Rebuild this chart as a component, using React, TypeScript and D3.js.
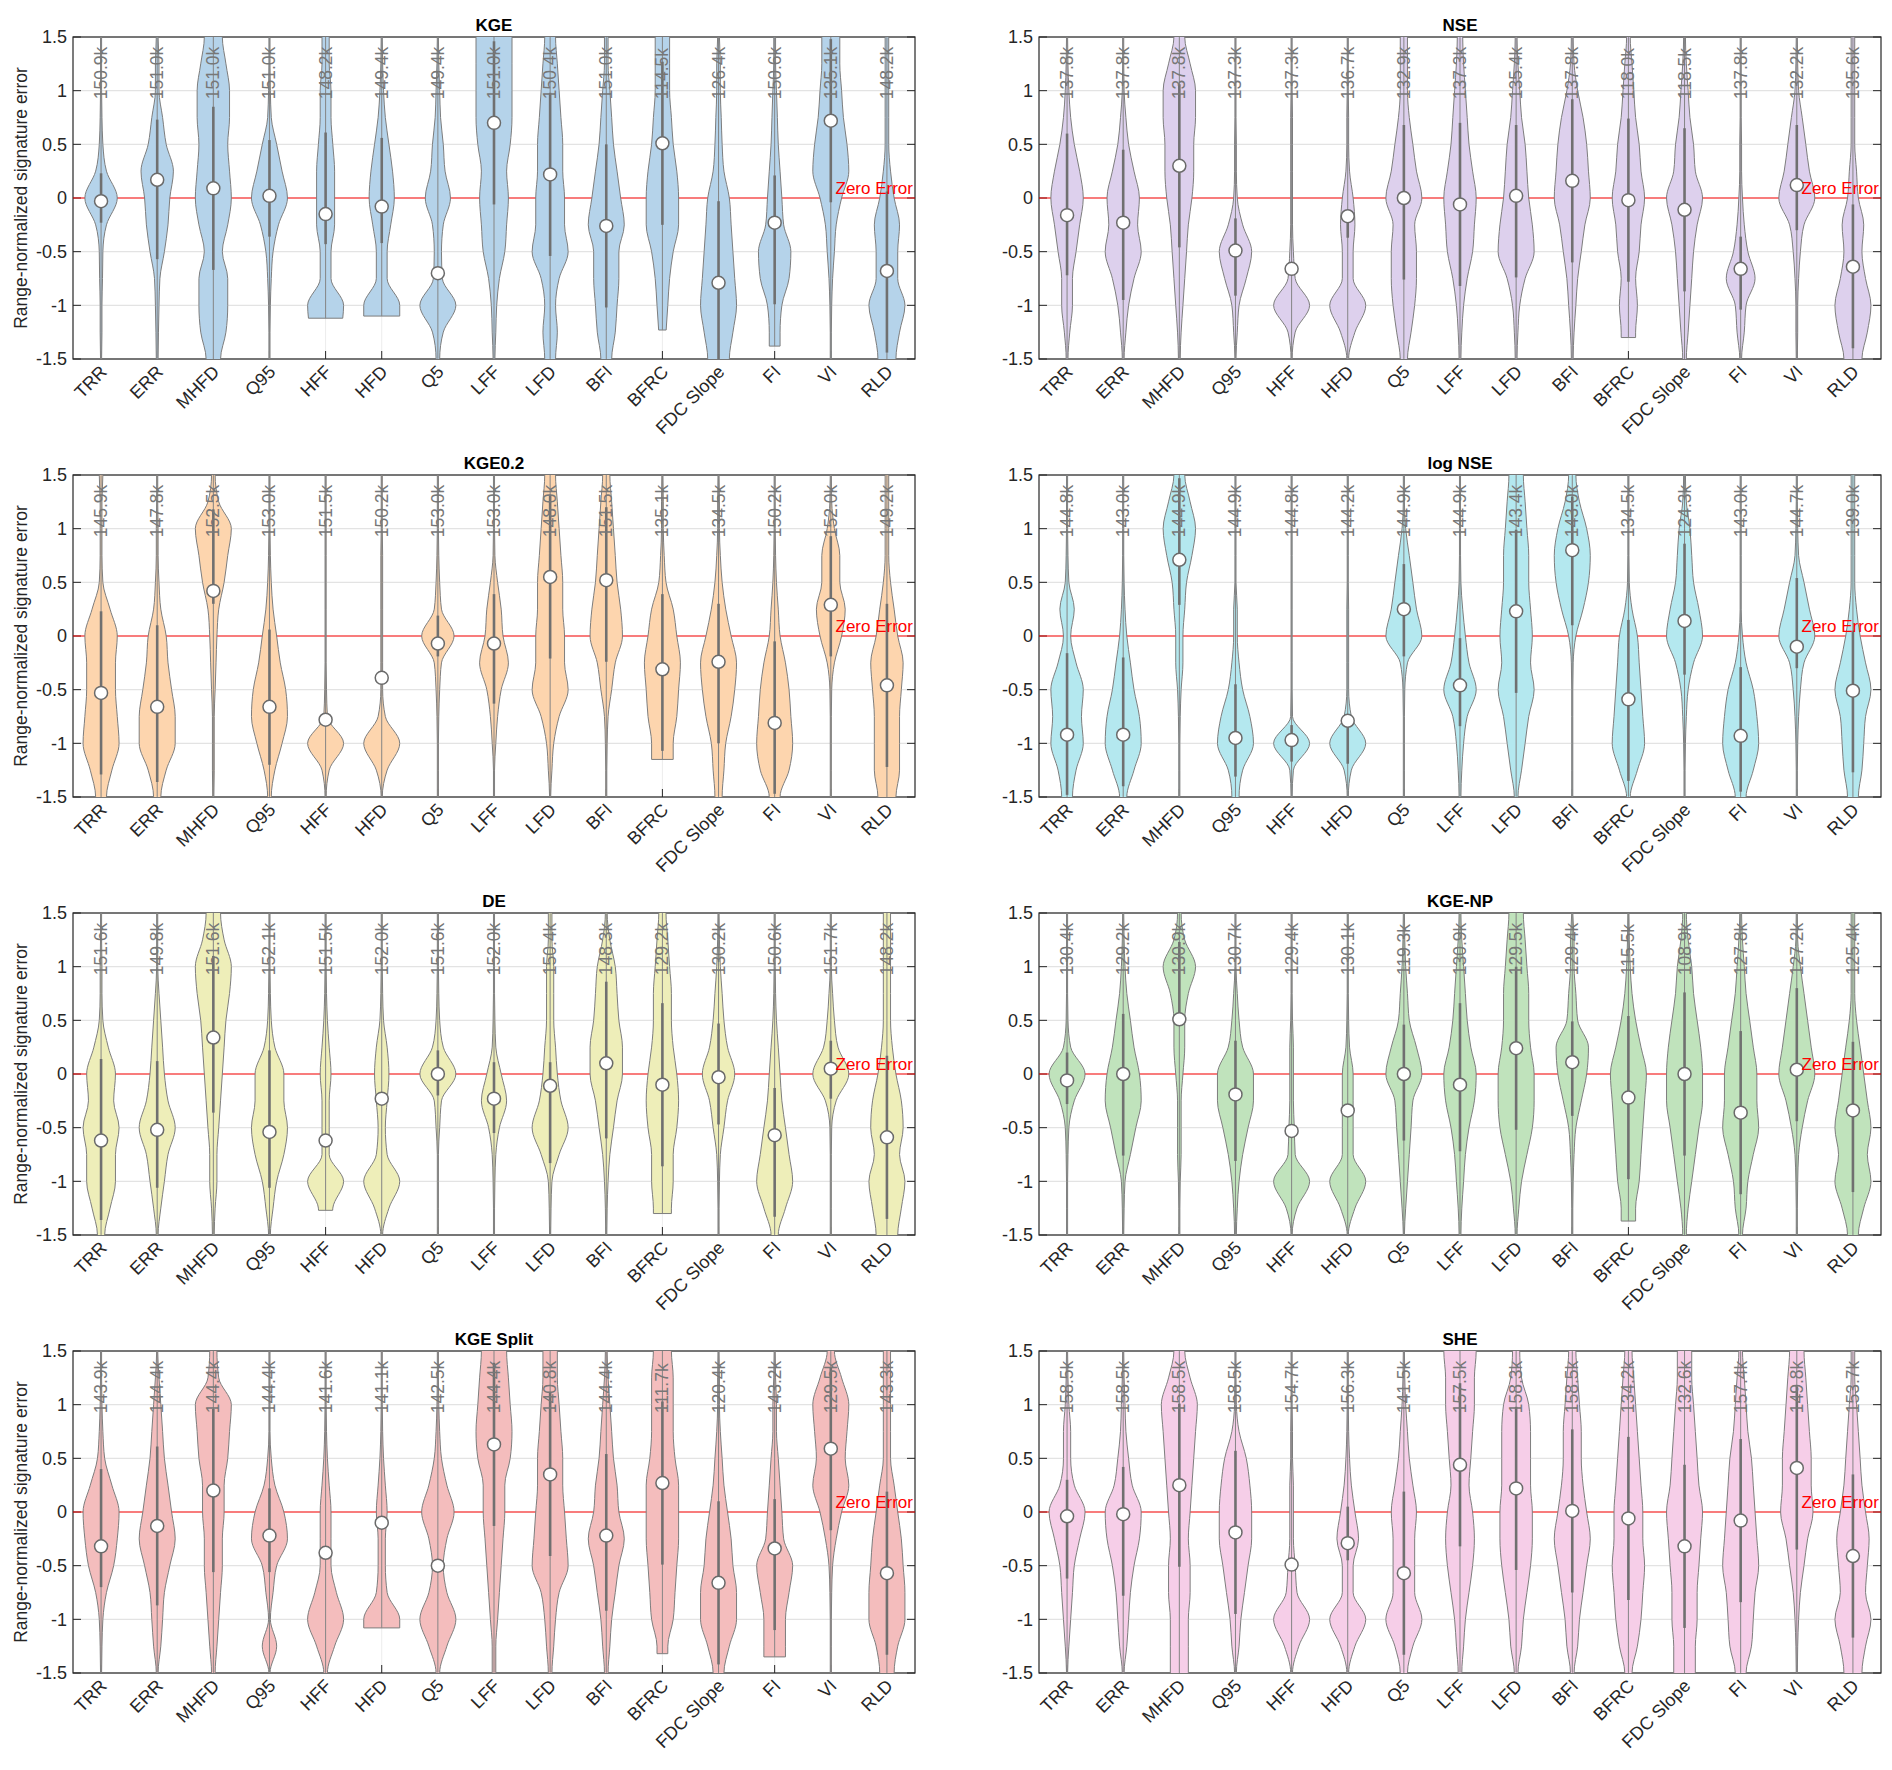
import React, { useEffect, useRef } from 'react';
import * as d3 from 'd3';

// Signature names (x categories)
const categories = ['TRR', 'ERR', 'MHFD', 'Q95', 'HFF', 'HFD', 'Q5', 'LFF', 'LFD', 'BFI', 'BFRC', 'FDC Slope', 'FI', 'VI', 'RLD'];

// y levels where violin half-widths were read (top to bottom)
const levels = [1.5, 1.25, 1, 0.75, 0.5, 0.25, 0, -0.25, -0.5, -0.75, -1, -1.25, -1.5];

const titles = ['KGE', 'NSE', 'KGE0.2', 'log NSE', 'DE', 'KGE-NP', 'KGE Split', 'SHE'];
const fills = ['#b5d3ea', '#ddd0ed', '#fdd5ae', '#b4e8ef', '#eeeeb9', '#c0e3bc', '#f4bdbd', '#f6cee8'];

const medians = [
  [-0.03, 0.17, 0.09, 0.02, -0.15, -0.08, -0.7, 0.7, 0.22, -0.26, 0.51, -0.79, -0.23, 0.72, -0.68],
  [-0.16, -0.23, 0.3, -0.49, -0.66, -0.17, 0.0, -0.06, 0.02, 0.16, -0.02, -0.11, -0.66, 0.12, -0.64],
  [-0.53, -0.66, 0.42, -0.66, -0.78, -0.39, -0.07, -0.07, 0.55, 0.52, -0.31, -0.24, -0.81, 0.29, -0.46],
  [-0.92, -0.92, 0.71, -0.95, -0.97, -0.79, 0.25, -0.46, 0.23, 0.8, -0.59, 0.14, -0.93, -0.1, -0.51],
  [-0.62, -0.52, 0.34, -0.54, -0.62, -0.23, 0.0, -0.23, -0.11, 0.1, -0.1, -0.03, -0.57, 0.05, -0.59],
  [-0.06, 0.0, 0.51, -0.19, -0.53, -0.34, 0.0, -0.1, 0.24, 0.11, -0.22, 0.0, -0.36, 0.04, -0.34],
  [-0.32, -0.13, 0.2, -0.22, -0.38, -0.1, -0.5, 0.63, 0.35, -0.22, 0.27, -0.66, -0.34, 0.59, -0.57],
  [-0.04, -0.02, 0.25, -0.19, -0.49, -0.29, -0.57, 0.44, 0.22, 0.01, -0.06, -0.32, -0.08, 0.41, -0.41],
];

const counts = [
  ['150.9k', '151.0k', '151.0k', '151.0k', '148.2k', '149.4k', '149.4k', '151.0k', '150.4k', '151.0k', '114.5k', '126.4k', '150.6k', '135.1k', '148.2k'],
  ['137.8k', '137.8k', '137.8k', '137.3k', '137.3k', '136.7k', '132.9k', '137.3k', '135.4k', '137.8k', '118.0k', '118.5k', '137.8k', '132.2k', '135.6k'],
  ['145.9k', '147.8k', '152.5k', '153.0k', '151.5k', '150.2k', '153.0k', '153.0k', '148.0k', '151.5k', '135.1k', '134.5k', '150.2k', '152.0k', '149.2k'],
  ['144.8k', '143.0k', '144.9k', '144.9k', '144.8k', '144.2k', '144.9k', '144.9k', '143.4k', '143.0k', '134.5k', '124.3k', '143.0k', '144.7k', '139.0k'],
  ['151.6k', '149.8k', '151.6k', '152.1k', '151.5k', '152.0k', '151.6k', '152.0k', '150.4k', '148.3k', '129.2k', '130.2k', '150.6k', '151.7k', '148.2k'],
  ['130.4k', '129.2k', '130.9k', '130.7k', '129.4k', '130.1k', '119.3k', '130.9k', '129.5k', '129.4k', '115.5k', '108.9k', '127.8k', '127.2k', '125.4k'],
  ['143.9k', '144.4k', '144.4k', '144.4k', '141.6k', '141.1k', '142.5k', '144.4k', '140.8k', '144.4k', '111.7k', '120.4k', '143.2k', '129.5k', '143.3k'],
  ['158.5k', '158.5k', '158.5k', '158.5k', '154.7k', '156.3k', '141.5k', '157.5k', '158.3k', '158.5k', '134.2k', '132.6k', '157.4k', '149.8k', '153.7k'],
];

// lower cut-off of violins with a flat bottom (default -1.5)
const lows = [
  [-1.5, -1.5, -1.5, -1.5, -1.12, -1.1, -1.5, -1.5, -1.5, -1.5, -1.23, -1.5, -1.38, -1.5, -1.5],
  [-1.5, -1.5, -1.5, -1.5, -1.5, -1.5, -1.5, -1.5, -1.5, -1.5, -1.3, -1.5, -1.5, -1.5, -1.5],
  [-1.5, -1.5, -1.5, -1.5, -1.5, -1.5, -1.5, -1.5, -1.5, -1.5, -1.15, -1.5, -1.5, -1.5, -1.5],
  [-1.5, -1.5, -1.5, -1.5, -1.5, -1.5, -1.5, -1.5, -1.5, -1.5, -1.5, -1.5, -1.5, -1.5, -1.5],
  [-1.5, -1.5, -1.5, -1.5, -1.27, -1.5, -1.5, -1.5, -1.5, -1.5, -1.3, -1.5, -1.5, -1.5, -1.5],
  [-1.5, -1.5, -1.5, -1.5, -1.5, -1.5, -1.5, -1.5, -1.5, -1.5, -1.37, -1.5, -1.5, -1.5, -1.5],
  [-1.5, -1.5, -1.5, -1.5, -1.5, -1.08, -1.5, -1.5, -1.5, -1.5, -1.32, -1.5, -1.35, -1.5, -1.5],
  [-1.5, -1.5, -1.5, -1.5, -1.5, -1.5, -1.5, -1.5, -1.5, -1.5, -1.5, -1.5, -1.5, -1.5, -1.5],
];

// violin half-widths (0..10) at each level, per panel, per category
const widths: number[][][] = [
  [ // KGE
    [0.3, 0.3, 0.3, 0.5, 1, 3, 9, 3, 1, 0.8, 0.5, 0.5, 0.3],
    [0.5, 1, 1, 3, 5, 9, 7, 6, 4, 1.5, 1, 0.7, 0.5],
    [5, 7, 9, 9, 8, 9, 10, 8, 5, 8, 8, 7, 4],
    [0.3, 0.3, 0.5, 1, 4, 7, 10, 5, 2, 1, 0.5, 0.3, 0.3],
    [2, 2, 3, 3, 4, 5, 5, 5, 3, 3, 10, 9, 9],
    [0.3, 0.5, 1, 2, 4, 6, 7, 5, 3, 3, 10, 10, 10],
    [0.3, 0.5, 1, 1.5, 3, 4, 7, 3, 2, 2.5, 10, 3, 1],
    [10, 10, 10, 10, 9, 7, 8, 7, 6, 3, 1.5, 1, 0.5],
    [3, 4, 5, 6, 7, 7, 8, 8, 10, 5, 3, 4, 3],
    [1, 1, 2, 3, 4, 6, 8, 10, 7, 7, 6, 5, 3],
    [4, 4, 4, 5, 6, 8, 9, 9, 6, 4, 3, 2, 2],
    [0.5, 1, 1, 1.5, 2, 3, 6, 7, 8, 9, 10, 8, 6],
    [0.5, 0.5, 1, 1.5, 2, 3, 4, 5, 9, 8, 4, 3, 3],
    [5, 5, 6, 7, 9, 10, 6, 3, 2, 1, 0.5, 0.3, 0.3],
    [1, 1, 1, 1, 1, 2, 4, 7, 6, 6, 10, 7, 5],
  ],
  [ // NSE
    [0.3, 0.5, 1, 2, 4, 7, 9, 7, 5, 3, 3, 1.5, 0.5],
    [0.3, 0.3, 0.5, 1.5, 3, 6, 9, 8, 10, 6, 3, 1.5, 0.5],
    [3, 6, 9, 9, 8, 8, 7, 5, 4, 3, 2, 1, 0.5],
    [0.3, 0.3, 0.3, 0.3, 0.5, 0.5, 1, 4, 9, 6, 2, 1, 0.3],
    [0.3, 0.3, 0.3, 0.5, 0.5, 0.5, 0.5, 0.5, 1, 2, 10, 2, 0.3],
    [0.3, 0.3, 0.3, 0.5, 0.5, 1, 3, 4, 3, 3, 10, 4, 0.5],
    [2, 2, 2, 3, 5, 7, 10, 6, 7, 7, 6, 4, 2],
    [1.5, 2, 3, 4, 5, 7, 9, 8, 7, 4, 2, 1, 0.5],
    [0.5, 1, 2, 3, 5, 6, 7, 9, 10, 5, 2, 1, 0.5],
    [0.5, 1, 3, 6, 8, 9, 10, 7, 5, 3, 2, 1, 0.5],
    [1, 2, 3, 4, 6, 7, 9, 7, 6, 4, 5, 4, 4],
    [0.5, 1, 2, 3, 5, 6, 10, 7, 5, 4, 3, 2, 1],
    [0.3, 0.3, 0.3, 0.3, 0.5, 0.5, 1, 2, 4, 8, 3, 2, 0.5],
    [0.3, 0.5, 1, 3, 5, 7, 10, 4, 2, 1, 0.5, 0.5, 0.3],
    [1, 1, 1, 1, 1, 2, 3, 6, 5, 7, 10, 8, 5],
  ],
  [ // KGE0.2
    [1, 0.5, 0.5, 0.5, 1, 5, 9, 8, 8, 9, 10, 6, 3],
    [0.3, 0.3, 0.5, 0.5, 1, 2, 5, 6, 8, 10, 10, 5, 2],
    [1, 3, 10, 8, 6, 3, 2, 1.5, 1, 0.5, 0.5, 0.5, 0.3],
    [0.3, 0.3, 0.3, 0.5, 1, 2, 4, 6, 9, 10, 7, 3, 1],
    [0.3, 0.3, 0.3, 0.3, 0.3, 0.3, 0.3, 0.3, 0.5, 1, 10, 2, 0.3],
    [0.3, 0.3, 0.3, 0.5, 0.5, 0.5, 0.5, 0.5, 0.5, 2, 10, 3, 0.3],
    [0.3, 0.3, 0.3, 0.5, 1, 2, 9, 2, 1, 0.5, 0.3, 0.3, 0.3],
    [0.3, 0.3, 0.3, 0.5, 2, 4, 5, 8, 4, 2, 1, 0.3, 0.3],
    [3, 4, 5, 6, 7, 7, 8, 8, 10, 5, 2, 1, 0.3],
    [2, 3, 4, 5, 6, 8, 9, 5, 3, 1, 0.5, 0.3, 0.3],
    [0.3, 0.5, 0.5, 1, 2, 6, 8, 10, 9, 8, 6, 6, 6],
    [0.3, 0.5, 0.5, 1, 2, 4, 7, 10, 9, 7, 4, 3, 2],
    [0.3, 0.3, 0.3, 0.5, 1, 2, 3, 6, 8, 9, 10, 8, 3],
    [0.3, 0.5, 2, 5, 5, 8, 6, 2, 0.5, 0.3, 0.3, 0.3, 0.3],
    [1, 1, 1, 1, 2, 4, 6, 9, 8, 7, 7, 7, 5],
  ],
  [ // log NSE
    [0.3, 0.3, 0.3, 0.5, 1, 4, 2, 5, 9, 8, 9, 5, 3],
    [0.3, 0.3, 0.3, 0.3, 0.5, 1, 2, 4, 6, 9, 10, 6, 2],
    [3, 6, 9, 7, 4, 3, 2, 2, 1, 0.5, 0.3, 0.3, 0.3],
    [0.3, 0.3, 0.3, 0.3, 0.3, 1, 1, 2, 4, 8, 10, 4, 2],
    [0.3, 0.3, 0.3, 0.3, 0.3, 0.3, 0.3, 0.3, 0.3, 0.5, 10, 1, 0.3],
    [0.3, 0.3, 0.3, 0.3, 0.3, 0.5, 0.5, 0.5, 0.5, 2, 10, 2, 0.3],
    [0.3, 0.3, 1, 3, 5, 7, 10, 2, 0.5, 0.3, 0.3, 0.3, 0.3],
    [0.3, 0.3, 0.3, 0.3, 0.5, 1.5, 3, 5, 9, 4, 2, 1, 0.5],
    [4, 5, 6, 7, 7, 8, 9, 8, 10, 7, 5, 3, 1],
    [2, 4, 8, 10, 9, 6, 2, 0.5, 0.3, 0.3, 0.3, 0.3, 0.3],
    [0.3, 0.3, 0.3, 0.3, 0.5, 2, 5, 6, 7, 8, 9, 5, 1],
    [0.5, 1, 3, 4, 5, 8, 10, 5, 2, 1, 0.5, 0.3, 0.3],
    [0.3, 0.3, 0.3, 0.3, 0.3, 0.3, 1, 3, 7, 9, 10, 7, 3],
    [0.3, 0.3, 0.5, 1, 4, 7, 10, 4, 2, 1, 0.5, 0.3, 0.3],
    [1, 1, 1, 1, 1, 2, 4, 7, 10, 7, 6, 5, 3],
  ],
  [ // DE
    [0.3, 0.3, 0.5, 0.5, 1, 4, 8, 7, 10, 8, 8, 5, 2],
    [0.3, 0.3, 0.3, 1, 2, 3, 4, 6, 10, 6, 4, 2, 0.5],
    [4, 6, 10, 9, 7, 6, 5, 4, 3, 2, 2, 1, 0.5],
    [0.3, 0.3, 0.3, 0.5, 1, 3, 8, 8, 10, 8, 4, 2, 0.5],
    [0.3, 0.3, 0.3, 0.5, 1, 2, 3, 2, 2, 2, 10, 4, 3],
    [0.3, 0.3, 0.3, 0.5, 1, 3, 4, 3, 2, 3, 10, 4, 0.5],
    [0.3, 0.3, 0.3, 0.5, 1, 3, 10, 2, 1, 0.3, 0.3, 0.3, 0.3],
    [0.3, 0.3, 0.3, 0.3, 0.5, 1, 4, 7, 3, 1, 0.5, 0.3, 0.3],
    [1, 1, 2, 2, 2, 3, 4, 6, 10, 5, 1, 0.5, 0.3],
    [0.5, 2, 5, 6, 7, 9, 9, 6, 4, 2, 1, 0.5, 0.3],
    [2, 3, 4, 5, 5, 6, 8, 9, 8, 6, 6, 5, 5],
    [0.3, 0.5, 1, 2, 3, 5, 9, 5, 3, 1, 0.5, 0.3, 0.3],
    [0.3, 0.3, 0.3, 0.5, 1, 2, 3, 4, 6, 8, 10, 6, 2],
    [0.3, 0.3, 0.3, 1, 2, 4, 10, 3, 0.5, 0.3, 0.3, 0.3, 0.3],
    [2, 2, 2, 2, 2, 3, 5, 8, 9, 7, 10, 8, 6],
  ],
  [ // KGE-NP
    [0.3, 0.3, 0.3, 0.3, 0.5, 2, 10, 4, 1, 0.5, 0.3, 0.3, 0.3],
    [0.3, 0.5, 1, 2, 4, 6, 9, 10, 7, 4, 1, 0.5, 0.3],
    [1, 3, 9, 5, 3, 3, 2, 1, 1, 1, 0.5, 0.3, 0.3],
    [0.3, 0.3, 0.3, 1, 2, 4, 10, 10, 7, 4, 2, 1, 0.5],
    [0.3, 0.3, 0.3, 0.3, 0.5, 1, 1, 1, 1.5, 2, 10, 3, 0.3],
    [0.3, 0.3, 0.3, 0.3, 0.5, 1, 3, 3, 3, 3, 10, 4, 0.3],
    [0.3, 0.5, 1, 2, 3, 7, 10, 5, 4, 3, 2, 1, 0.3],
    [0.5, 1, 2, 3, 4, 6, 9, 8, 5, 3, 2, 1, 0.5],
    [4, 5, 6, 7, 7, 8, 10, 10, 9, 6, 3, 1.5, 0.5],
    [0.3, 1, 1, 2, 3, 9, 8, 5, 2, 1, 0.5, 0.3, 0.3],
    [0.3, 0.5, 1, 2, 4, 7, 10, 9, 8, 7, 6, 4, 4],
    [1, 2, 4, 5, 7, 9, 10, 10, 8, 6, 4, 2, 1],
    [0.5, 1, 2, 3, 5, 7, 9, 9, 10, 7, 4, 3, 1],
    [0.3, 0.5, 2, 4, 6, 8, 10, 6, 3, 1, 0.5, 0.3, 0.3],
    [1, 1, 1, 1, 2, 4, 6, 8, 10, 8, 10, 6, 3],
  ],
  [ // KGE Split
    [0.3, 0.3, 0.5, 1, 2, 6, 10, 9, 7, 3, 1, 0.5, 0.3],
    [0.3, 1, 2, 3, 4, 6, 8, 10, 7, 4, 3, 2, 0.5],
    [2, 3, 10, 9, 8, 6, 6, 5, 5, 4, 3, 2, 1],
    [0.3, 0.3, 0.3, 0.3, 1, 3, 8, 10, 4, 2, 0.5, 4, 0.3],
    [0.3, 0.3, 0.3, 0.5, 1, 2, 3, 3, 3, 6, 10, 5, 1],
    [0.3, 0.3, 0.3, 0.5, 1, 2, 3, 2, 2, 3, 10, 10, 10],
    [0.3, 0.3, 0.5, 1, 2, 5, 9, 5, 3, 5, 10, 5, 1],
    [7, 8, 9, 10, 9, 6, 6, 5, 4, 3, 2, 1, 1],
    [4, 4, 5, 6, 7, 7, 8, 9, 10, 5, 3, 2, 1],
    [0.5, 1, 2, 3, 4, 6, 7, 10, 7, 5, 3, 2, 1],
    [5, 6, 6, 6, 7, 9, 9, 9, 8, 7, 6, 3, 3],
    [0.3, 0.5, 0.5, 1, 2, 3, 5, 7, 8, 10, 10, 6, 3],
    [0.3, 0.5, 1, 1, 2, 3, 4, 5, 10, 8, 6, 6, 6],
    [2, 6, 10, 9, 8, 10, 6, 3, 1, 0.5, 0.3, 0.3, 0.3],
    [2, 2, 2, 2, 2, 4, 6, 8, 9, 10, 10, 6, 4],
  ],
  [ // SHE
    [0.3, 0.5, 1, 2, 2, 4, 10, 7, 4, 3, 2, 1, 0.3],
    [0.3, 0.5, 1, 1.5, 3, 5, 10, 9, 6, 4, 3, 2, 0.5],
    [3, 6, 10, 9, 8, 7, 6, 5, 6, 6, 5, 5, 5],
    [0.3, 0.3, 0.5, 2, 6, 8, 9, 9, 7, 5, 3, 2, 0.5],
    [0.3, 0.3, 0.3, 0.5, 0.5, 1, 1, 1, 2, 3, 10, 4, 0.5],
    [0.3, 0.3, 0.3, 0.5, 1, 2, 4, 6, 3, 3, 10, 4, 0.5],
    [0.3, 0.5, 1, 2, 3, 5, 7, 6, 6, 6, 10, 5, 2],
    [9, 8, 8, 7, 6, 5, 7, 8, 7, 5, 3, 2, 1],
    [2, 3, 7, 8, 8, 8, 9, 9, 8, 6, 4, 3, 1],
    [2, 3, 4, 5, 5, 6, 8, 10, 8, 6, 4, 3, 1],
    [2, 3, 4, 5, 6, 7, 8, 8, 9, 8, 7, 5, 2],
    [4, 4, 5, 6, 7, 8, 10, 9, 8, 7, 7, 6, 6],
    [1, 2, 3, 4, 6, 7, 8, 9, 10, 8, 7, 6, 3],
    [4, 5, 6, 7, 8, 8, 9, 6, 4, 2, 1, 0.5, 0.3],
    [1, 1, 2, 3, 4, 5, 7, 9, 8, 7, 10, 7, 5],
  ],
];

const yTicks = [-1.5, -1, -0.5, 0, 0.5, 1, 1.5];

const W = 1876;
const H = 1760;
const panelW = 842;
const panelH = 322;
const colX = [65, 1031];
const rowY = [29, 467, 905, 1343];
const FONT = 'Liberation Sans, Arial, Helvetica, sans-serif';

const widthAt = (prof: number[], v: number) => {
  // linear interpolation along levels (levels descending)
  const t = (1.5 - v) / 0.25;
  const i = Math.max(0, Math.min(11, Math.floor(t)));
  const f = t - i;
  return prof[i] * (1 - f) + prof[i + 1] * f;
};

export default function App() {
  const ref = useRef<SVGSVGElement>(null);

  useEffect(() => {
    const svg = d3.select(ref.current);
    svg.selectAll('*').remove();

    titles.forEach((title, p) => {
      const x0 = colX[p % 2];
      const y0 = rowY[Math.floor(p / 2)];
      const g = svg.append('g').attr('transform', `translate(${x0},${y0})`);

      const x = d3.scaleBand().domain(categories).range([0, panelW]).padding(0);
      const y = d3.scaleLinear().domain([-1.5, 1.5]).range([panelH, 0]);
      const cx = (c: string) => (x(c) as number) + x.bandwidth() / 2;
      const unit = 1.8;

      const clipId = `clip-${p}`;
      svg.append('clipPath').attr('id', clipId)
        .append('rect').attr('x', x0).attr('y', y0).attr('width', panelW).attr('height', panelH);

      // grid
      g.append('g').selectAll('line').data(yTicks).enter().append('line')
        .attr('x1', 0).attr('x2', panelW).attr('y1', d => y(d)).attr('y2', d => y(d))
        .attr('stroke', '#e3e3e3').attr('stroke-width', 1.2);
      g.append('g').selectAll('line').data(categories).enter().append('line')
        .attr('x1', d => cx(d)).attr('x2', d => cx(d)).attr('y1', 0).attr('y2', panelH)
        .attr('stroke', '#ececec').attr('stroke-width', 1);

      const vg = svg.append('g').attr('clip-path', `url(#${clipId})`)
        .append('g').attr('transform', `translate(${x0},${y0})`);

      // zero line
      vg.append('line').attr('x1', 0).attr('x2', panelW).attr('y1', y(0)).attr('y2', y(0))
        .attr('stroke', '#ff0000').attr('stroke-opacity', 0.65).attr('stroke-width', 1.6);

      categories.forEach((c, i) => {
        const prof = widths[p][i];
        const lo = lows[p][i];
        const pts: { v: number; w: number }[] = [];
        levels.forEach((v, k) => { if (v > lo + 1e-6) pts.push({ v, w: prof[k] }); });
        pts.push({ v: lo, w: widthAt(prof, lo) });
        const extended = [{ v: 1.7, w: prof[0] }, ...pts];
        if (lo <= -1.5) extended.push({ v: -1.7, w: prof[12] });
        const xc = cx(c);
        const area = d3.area<{ v: number; w: number }>()
          .y(d => y(d.v))
          .x0(d => xc - d.w * unit)
          .x1(d => xc + d.w * unit)
          .curve(d3.curveMonotoneY);
        vg.append('path').attr('d', area(extended) as string)
          .attr('fill', fills[p]).attr('stroke', '#7d7d7d').attr('stroke-width', 1);

        // whisker
        vg.append('line').attr('x1', xc).attr('x2', xc).attr('y1', y(1.5)).attr('y2', y(lo))
          .attr('stroke', '#858585').attr('stroke-width', 1);

        // IQR bar: extend from median while the violin stays wide
        const m = medians[p][i];
        const maxW = d3.max(prof) as number;
        let top = m;
        while (top < 1.5 && top - m < 0.75 && widthAt(prof, top + 0.02) > 0.35 * maxW) top += 0.02;
        let bot = m;
        while (bot > lo && m - bot < 0.75 && widthAt(prof, bot - 0.02) > 0.35 * maxW) bot -= 0.02;
        vg.append('line').attr('x1', xc).attr('x2', xc).attr('y1', y(top)).attr('y2', y(bot))
          .attr('stroke', '#707070').attr('stroke-width', 2.6);

        // count label
        vg.append('text')
          .attr('transform', `translate(${xc + 6},${y(0.92)}) rotate(-90)`)
          .attr('font-family', FONT).attr('font-size', 17.5).attr('fill', '#777777')
          .text(counts[p][i]);

        vg.append('circle').attr('cx', xc).attr('cy', y(m)).attr('r', 6.5)
          .attr('fill', '#ffffff').attr('stroke', '#6a6a6a').attr('stroke-width', 1.5);
      });

      vg.append('text').attr('x', panelW - 2).attr('y', y(0) - 4)
        .attr('text-anchor', 'end').attr('font-family', FONT).attr('font-size', 17).attr('fill', '#ff0000')
        .text('Zero Error');

      // box and ticks
      g.append('rect').attr('width', panelW).attr('height', panelH)
        .attr('fill', 'none').attr('stroke', '#262626').attr('stroke-width', 1.2);
      yTicks.forEach(t => {
        g.append('line').attr('x1', 0).attr('x2', 8).attr('y1', y(t)).attr('y2', y(t)).attr('stroke', '#262626');
        g.append('line').attr('x1', panelW - 8).attr('x2', panelW).attr('y1', y(t)).attr('y2', y(t)).attr('stroke', '#262626');
        g.append('text').attr('x', -6).attr('y', y(t)).attr('dy', '0.35em').attr('text-anchor', 'end')
          .attr('font-family', FONT).attr('font-size', 18).attr('fill', '#262626')
          .text(String(t));
      });
      categories.forEach(c => {
        g.append('line').attr('x1', cx(c)).attr('x2', cx(c)).attr('y1', panelH - 8).attr('y2', panelH)
          .attr('stroke', '#262626');
        g.append('text')
          .attr('transform', `translate(${cx(c) + 7},${panelH + 14}) rotate(-45)`)
          .attr('text-anchor', 'end').attr('font-family', FONT).attr('font-size', 18).attr('fill', '#262626')
          .text(c);
      });

      g.append('text').attr('x', panelW / 2).attr('y', -6).attr('text-anchor', 'middle')
        .attr('font-family', FONT).attr('font-size', 17).attr('font-weight', 'bold').attr('fill', '#000')
        .text(title);

      if (p % 2 === 0) {
        g.append('text')
          .attr('transform', `translate(-46,${panelH / 2}) rotate(-90)`)
          .attr('text-anchor', 'middle').attr('font-family', FONT).attr('font-size', 17.5).attr('fill', '#262626')
          .text('Range-normalized signature error');
      }
    });
  }, []);

  return <svg ref={ref} width={W} height={H} style={{ display: 'block', background: '#fff' }} />;
}
